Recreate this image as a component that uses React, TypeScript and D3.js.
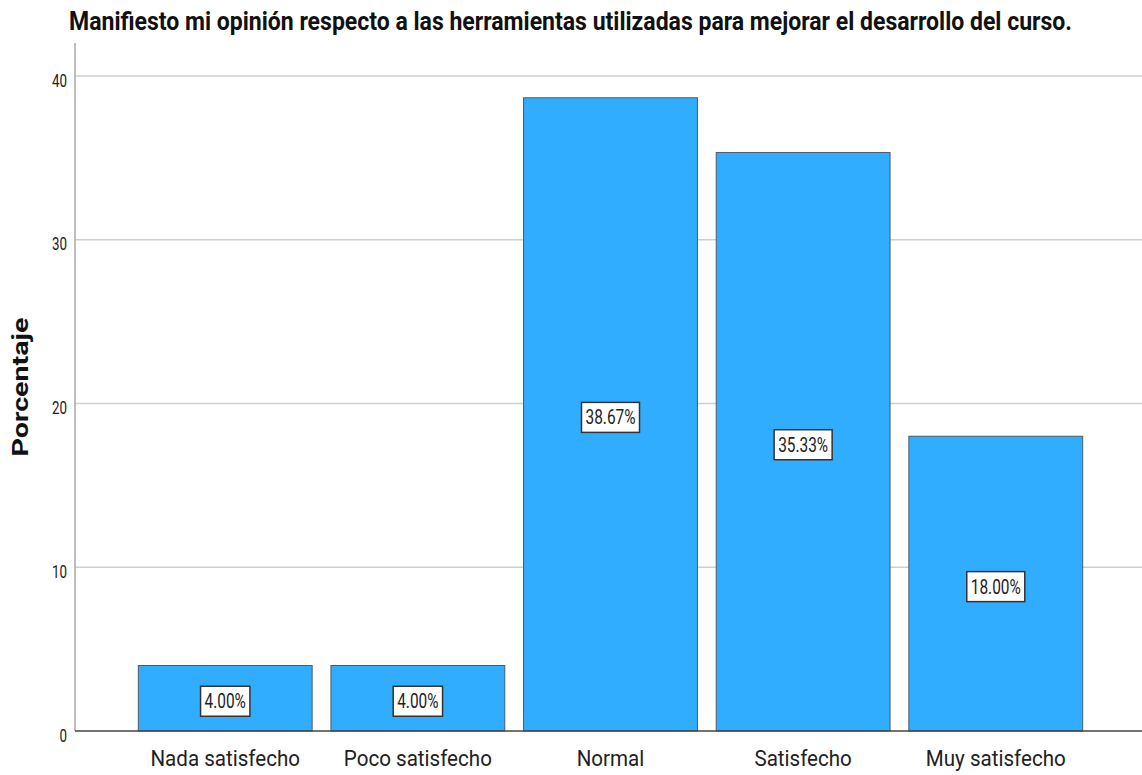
// Bar chart: opinión sobre herramientas del curso (porcentaje por categoría)

import { useEffect, useRef } from "react";
import * as d3 from "d3";

const categories = [
  "Nada satisfecho",
  "Poco satisfecho",
  "Normal",
  "Satisfecho",
  "Muy satisfecho",
];
const percentages = [4.0, 4.0, 38.67, 35.33, 18.0];
const yTicks = [0, 10, 20, 30, 40];
const title =
  "Manifiesto mi opinión respecto a las herramientas utilizadas para mejorar el desarrollo del curso.";
const yTitle = "Porcentaje";

const W = 1142;
const H = 775;

export default function App() {
  const svgRef = useRef<SVGSVGElement>(null);

  useEffect(() => {
    if (!svgRef.current) return;
    const svg = d3.select(svgRef.current);
    svg.selectAll("*").remove();

    const axisX = 75;
    const plotRight = W;
    const y0 = 731;
    const y40 = 76;

    const x = d3
      .scaleBand<string>()
      .domain(categories)
      .range([138.3, 1082.7])
      .paddingInner(0.0975)
      .paddingOuter(0);

    const y = d3.scaleLinear().domain([0, 40]).range([y0, y40]);

    const font = "Roboto, 'Liberation Sans', Arial, sans-serif";

    // squeeze a text node horizontally to a target width, keeping its anchor
    const squeeze = (
      node: d3.Selection<SVGTextElement, unknown, null, undefined>,
      px: number,
      py: number,
      sx: number
    ) => {
      node.attr("x", 0).attr("y", 0).attr("transform", `translate(${px},${py}) scale(${sx},1)`);
    };
    const measure = (t: d3.Selection<SVGTextElement, unknown, null, undefined>) =>
      (t.node() as SVGTextElement).getComputedTextLength();

    // title
    svg
      .append("text")
      .attr("x", 69)
      .attr("y", 30)
      .attr("font-family", font)
      .attr("font-weight", "bold")
      .attr("font-size", 26)
      .attr("fill", "#111")
      .attr("textLength", 1003)
      .attr("lengthAdjust", "spacingAndGlyphs")
      .text(title);

    // gridlines
    svg
      .append("g")
      .selectAll("line")
      .data(yTicks.filter((d) => d > 0))
      .join("line")
      .attr("x1", axisX)
      .attr("x2", plotRight)
      .attr("y1", (d) => y(d))
      .attr("y2", (d) => y(d))
      .attr("stroke", "#cfcfcf")
      .attr("stroke-width", 1.5);

    // y axis line
    svg
      .append("line")
      .attr("x1", axisX)
      .attr("x2", axisX)
      .attr("y1", 43)
      .attr("y2", y0)
      .attr("stroke", "#a8a8a8")
      .attr("stroke-width", 1.5);

    // tick labels
    const tickG = svg.append("g");
    const probe = tickG
      .append("text")
      .attr("font-family", font)
      .attr("font-size", 18)
      .text("40");
    const tickSx = 15 / measure(probe);
    probe.remove();
    yTicks.forEach((t) => {
      const tx = tickG
        .append("text")
        .attr("font-family", font)
        .attr("font-size", 18)
        .attr("text-anchor", "end")
        .attr("fill", "#222")
        .text(String(t));
      squeeze(tx, 67, y(t) + 10.5, tickSx);
    });

    // y title
    svg
      .append("text")
      .attr("transform", `translate(28,${387}) rotate(-90)`)
      .attr("text-anchor", "middle")
      .attr("font-family", font)
      .attr("font-weight", "bold")
      .attr("font-size", 22)
      .attr("fill", "#111")
      .attr("textLength", 139)
      .attr("lengthAdjust", "spacingAndGlyphs")
      .text(yTitle);

    // bars
    svg
      .append("g")
      .selectAll("rect")
      .data(percentages)
      .join("rect")
      .attr("x", (_, i) => x(categories[i])!)
      .attr("width", x.bandwidth())
      .attr("y", (d) => y(d))
      .attr("height", (d) => y0 - y(d))
      .attr("fill", "#31adff")
      .attr("stroke", "#4a5c6a")
      .attr("stroke-width", 1);

    // baseline
    svg
      .append("line")
      .attr("x1", axisX)
      .attr("x2", plotRight)
      .attr("y1", y0)
      .attr("y2", y0)
      .attr("stroke", "#444")
      .attr("stroke-width", 1.5);

    // category labels
    const catG = svg.append("g");
    const cprobe = catG
      .append("text")
      .attr("font-family", font)
      .attr("font-size", 22)
      .text("Muy satisfecho");
    const catSx = 140 / measure(cprobe);
    cprobe.remove();
    categories.forEach((c) => {
      const tx = catG
        .append("text")
        .attr("font-family", font)
        .attr("font-size", 22)
        .attr("text-anchor", "middle")
        .attr("fill", "#222")
        .text(c);
      squeeze(tx, x(c)! + x.bandwidth() / 2, 766, catSx);
    });

    // value labels
    const labG = svg.append("g");
    const lprobe = labG
      .append("text")
      .attr("font-family", font)
      .attr("font-size", 20)
      .text("38.67%");
    const labSx = 50 / measure(lprobe);
    lprobe.remove();
    percentages.forEach((v, i) => {
      const cx = x(categories[i])! + x.bandwidth() / 2;
      const cy = (y(v) + y0) / 2 + 3;
      const txt = `${v.toFixed(2)}%`;
      const g = labG.append("g");
      const rect = g.append("rect");
      const tx = g
        .append("text")
        .attr("font-family", font)
        .attr("font-size", 20)
        .attr("text-anchor", "middle")
        .attr("fill", "#222")
        .text(txt);
      const tw = measure(tx) * labSx;
      squeeze(tx, cx, cy + 7, labSx);
      rect
        .attr("x", cx - tw / 2 - 4)
        .attr("y", cy - 15)
        .attr("width", tw + 8)
        .attr("height", 30)
        .attr("fill", "#fff")
        .attr("stroke", "#333")
        .attr("stroke-width", 1.5);
    });
  }, []);

  return (
    <svg
      ref={svgRef}
      width={W}
      height={H}
      style={{ position: "absolute", left: 0, top: 0, background: "#fff" }}
    />
  );
}
